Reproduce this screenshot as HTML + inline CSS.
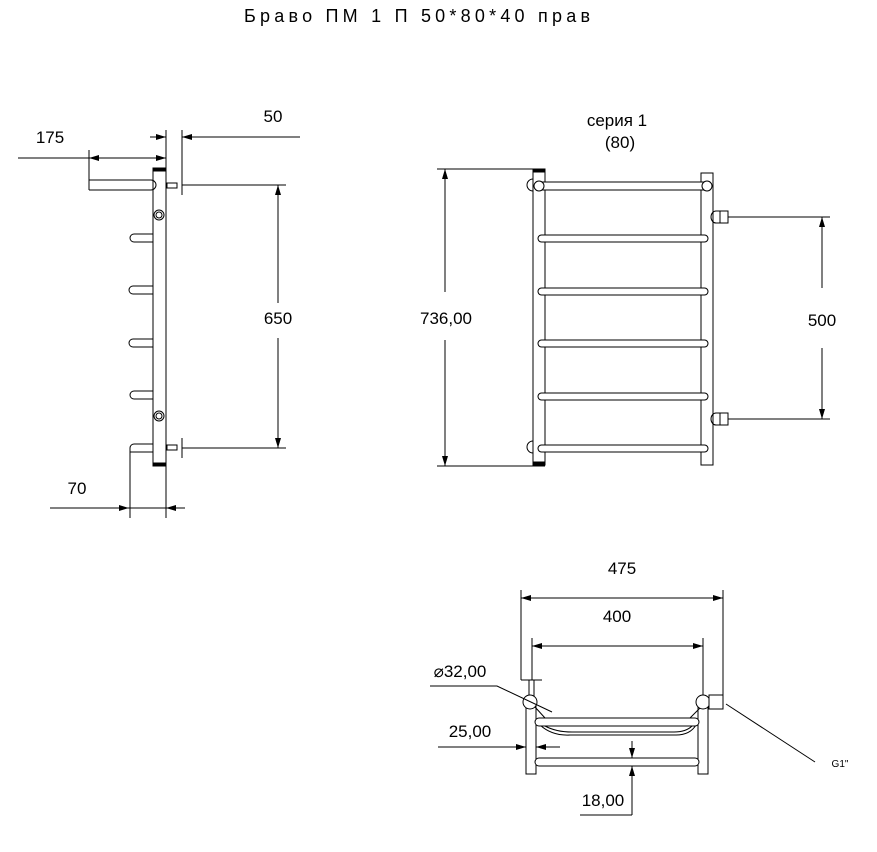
<!DOCTYPE html>
<html><head><meta charset="utf-8"><style>
html,body{margin:0;padding:0;background:#fff;}
svg{display:block;}
text{font-family:"Liberation Sans",sans-serif;fill:#000;}
</style></head><body>
<svg width="877" height="852" viewBox="0 0 877 852" xmlns="http://www.w3.org/2000/svg">
<defs>
<marker id="a" viewBox="0 0 10 6" refX="10" refY="3" markerWidth="10" markerHeight="6" orient="auto-start-reverse" markerUnits="userSpaceOnUse"><path d="M0,0 L10,3 L0,6 z" fill="#000"/></marker>
</defs>
<text x="417" y="22" font-size="18" text-anchor="middle" textLength="346" lengthAdjust="spacing" font-weight="normal">Браво ПМ 1 П 50*80*40 прав</text>

<g fill="none" stroke="#000" stroke-width="1">
<!-- LEFT VIEW -->
<rect x="153" y="168" width="13" height="298" fill="#fff"/>
<rect x="153" y="168" width="13" height="3" fill="#000"/>
<rect x="153" y="463" width="13" height="3" fill="#000"/>
<line x1="166" y1="130" x2="166" y2="518"/>
<line x1="150" y1="137" x2="166" y2="137" marker-end="url(#a)"/>
<line x1="300" y1="137" x2="182" y2="137" marker-end="url(#a)"/>
<line x1="182" y1="130" x2="182" y2="195"/>
<line x1="18" y1="158" x2="166" y2="158" marker-end="url(#a)"/>
<line x1="120" y1="158" x2="89" y2="158" marker-end="url(#a)"/>
<line x1="89" y1="150" x2="89" y2="190"/>
<path d="M89,180 H151 A5,5 0 0 1 151,190 H89"/>
<rect x="167" y="183" width="10" height="5"/>
<line x1="182" y1="175" x2="182" y2="195"/>
<rect x="167" y="445" width="10" height="5"/>
<line x1="182" y1="438" x2="182" y2="458"/>
<line x1="182" y1="185" x2="286" y2="185"/>
<line x1="182" y1="448" x2="286" y2="448"/>
<circle cx="159" cy="215" r="5"/><circle cx="159" cy="215" r="3"/>
<circle cx="159" cy="416" r="5"/><circle cx="159" cy="416" r="3"/>
<path d="M153,234 H134 A4,4 0 0 0 134,242 H153"/>
<path d="M153,286 H133 A4,4 0 0 0 133,294 H153"/>
<path d="M153,339 H133 A4,4 0 0 0 133,347 H153"/>
<path d="M153,391 H134 A4,4 0 0 0 134,399 H153"/>
<path d="M153,444 H134 A4,4 0 0 0 130,448 V518 M130,452 H153" />
<line x1="278" y1="303" x2="278" y2="185" marker-end="url(#a)"/>
<line x1="278" y1="338" x2="278" y2="448" marker-end="url(#a)"/>
<line x1="50" y1="508" x2="129" y2="508" marker-end="url(#a)"/>
<line x1="185" y1="508" x2="166" y2="508" marker-end="url(#a)"/>
<line x1="129" y1="508" x2="166" y2="508"/>

<!-- MIDDLE VIEW -->
<rect x="533" y="169" width="12" height="296" fill="#fff"/>
<rect x="533" y="169" width="12" height="3" fill="#000"/>
<rect x="533" y="462" width="12" height="3" fill="#000"/>
<rect x="701" y="173" width="12" height="292" fill="#fff"/>
<path d="M533,179 A6,6 0 0 0 533,191"/>
<path d="M533,441 A6,6 0 0 0 533,453"/>
<rect x="539" y="182" width="168" height="8" fill="#fff"/>
<circle cx="539" cy="186" r="5" fill="#fff"/>
<circle cx="707" cy="186" r="5" fill="#fff"/>
<g fill="#fff">
<rect x="538" y="235" width="170" height="7" rx="3.5"/>
<rect x="538" y="288" width="170" height="7" rx="3.5"/>
<rect x="538" y="340" width="170" height="7" rx="3.5"/>
<rect x="538" y="393" width="170" height="7" rx="3.5"/>
<rect x="538" y="445" width="170" height="7" rx="3.5"/>
</g>
<path d="M720,211 H716 A5,6 0 0 0 716,223 H720 Z"/>
<rect x="720" y="211" width="8" height="12"/>
<path d="M720,413 H716 A5,6 0 0 0 716,425 H720 Z"/>
<rect x="720" y="413" width="8" height="12"/>
<line x1="728" y1="217" x2="830" y2="217"/>
<line x1="728" y1="419" x2="830" y2="419"/>
<line x1="822" y1="288" x2="822" y2="217" marker-end="url(#a)"/>
<line x1="822" y1="348" x2="822" y2="419" marker-end="url(#a)"/>
<line x1="437" y1="169" x2="545" y2="169"/>
<line x1="437" y1="466" x2="545" y2="466"/>
<line x1="445" y1="292" x2="445" y2="169" marker-end="url(#a)"/>
<line x1="445" y1="340" x2="445" y2="466" marker-end="url(#a)"/>

<!-- BOTTOM VIEW -->
<line x1="521" y1="590" x2="521" y2="680"/>
<line x1="532" y1="638" x2="532" y2="680"/>
<line x1="521" y1="680" x2="542" y2="680"/>
<line x1="723" y1="590" x2="723" y2="708"/>
<line x1="703" y1="638" x2="703" y2="695"/>
<line x1="521" y1="598" x2="723" y2="598" marker-start="url(#a)" marker-end="url(#a)"/>
<line x1="532" y1="646" x2="703" y2="646" marker-start="url(#a)" marker-end="url(#a)"/>
<rect x="529" y="680" width="5" height="16"/>
<rect x="526" y="706" width="10" height="68" fill="#fff"/>
<rect x="698" y="706" width="10" height="68" fill="#fff"/>
<path d="M540,725 Q552,736 570,735 H676 Q690,735 696,725"/>
<path d="M545,726 Q556,732 572,732 H674 Q686,732 692,726"/>
<line x1="535" y1="707" x2="545" y2="718"/>
<line x1="700" y1="708" x2="690" y2="718"/>
<rect x="535" y="718" width="164" height="8" rx="4" fill="#fff"/>
<rect x="535" y="758" width="164" height="8" rx="4" fill="#fff"/>
<circle cx="530" cy="702" r="7" fill="#fff"/>
<circle cx="703" cy="702" r="7" fill="#fff"/>
<rect x="709" y="695" width="14" height="14" fill="#fff"/>
<polyline points="430,686 497,686 552,712"/>
<polyline points="726,704 815,762"/>
<line x1="438" y1="747" x2="526" y2="747" marker-end="url(#a)"/>
<line x1="560" y1="747" x2="536" y2="747" marker-end="url(#a)"/>
<line x1="632" y1="741" x2="632" y2="758" marker-end="url(#a)"/>
<line x1="632" y1="815" x2="632" y2="766" marker-end="url(#a)"/>
<line x1="580" y1="815" x2="632" y2="815"/>
</g>

<g font-size="17">
<text x="50" y="143" text-anchor="middle">175</text>
<text x="273" y="122" text-anchor="middle">50</text>
<text x="278" y="324" text-anchor="middle">650</text>
<text x="77" y="494" text-anchor="middle">70</text>
<text x="617" y="126" text-anchor="middle">серия 1</text>
<text x="620" y="148" text-anchor="middle">(80)</text>
<text x="446" y="324" text-anchor="middle">736,00</text>
<text x="822" y="326" text-anchor="middle">500</text>
<text x="622" y="574" text-anchor="middle">475</text>
<text x="617" y="622" text-anchor="middle">400</text>
<text x="460" y="677" text-anchor="middle">⌀32,00</text>
<text x="470" y="737" text-anchor="middle">25,00</text>
<text x="603" y="806" text-anchor="middle">18,00</text>
<text x="840" y="767" font-size="10" text-anchor="middle">G1"</text>
</g>
</svg>
</body></html>
